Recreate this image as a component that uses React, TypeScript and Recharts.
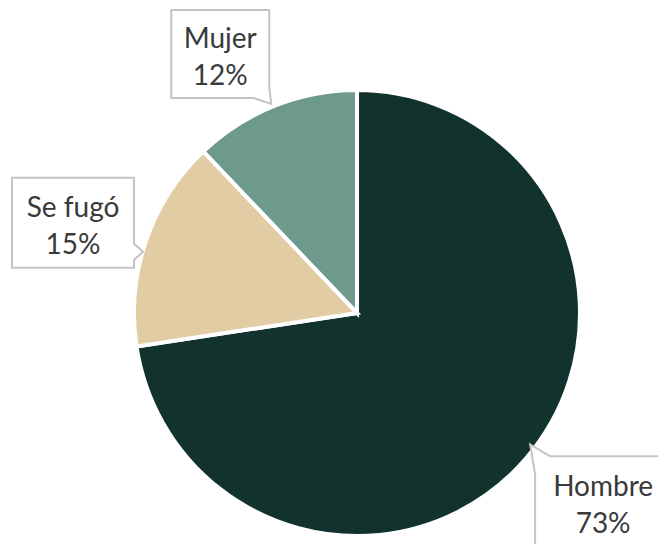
import React from 'react';
import { PieChart, Pie, Cell } from 'recharts';

const categories = ['Hombre', 'Se fugó', 'Mujer'];
const values = [72.6, 15.3, 12.1];
const percentLabels = ['73%', '15%', '12%'];
const colors = ['#11322d', '#e2cca3', '#6e998d'];

const data = categories.map((name, i) => ({ name, value: values[i], pct: percentLabels[i] }));

// callout layout (styles only): box offset from anchor, size, tail shape
const callouts: Record<number, any> = {
  0: { dx: 9, dy: -2, w: 140, h: 92, tail: 'topleft' },
  1: { dx: -134, dy: -63, w: 122, h: 90, tail: 'right' },
  2: { dx: -103, dy: -96, w: 98, h: 88, tail: 'bottomright' },
};

const RADIAN = Math.PI / 180;
const FONT = "Lato, 'Open Sans', sans-serif";

const renderLabel = (props: any) => {
  const { cx, cy, midAngle, outerRadius, index } = props;
  const ax = cx + outerRadius * Math.cos(-midAngle * RADIAN);
  const ay = cy + outerRadius * Math.sin(-midAngle * RADIAN);
  const c = callouts[index];
  const bx = ax + c.dx;
  const by = ay + c.dy;
  const { w, h } = c;
  let d = '';
  if (c.tail === 'topleft') {
    const tx = ax + 4, ty = ay - 14;
    d = `M${bx + 15},${by} H${bx + w} V${by + h} H${bx} V${by + 18} L${tx},${ty} Z`;
  } else if (c.tail === 'right') {
    const tx = bx + w + 9, ty = by + 74;
    d = `M${bx},${by} H${bx + w} V${by + 66} L${tx},${ty} L${bx + w},${by + 82} V${by + h} H${bx} Z`;
  } else {
    const tx = ax - 3, ty = ay - 2;
    d = `M${bx},${by} H${bx + w} V${by + h - 10} L${tx},${ty} L${bx + w - 16},${by + h} H${bx} Z`;
  }
  const item = data[index];
  const tx = bx + w / 2 + (index === 0 ? -2 : 0);
  return (
    <g>
      <path d={d} fill="#ffffff" stroke="#c4c4c4" strokeWidth={2} strokeLinejoin="miter" />
      <text x={tx} y={by + h / 2 - 17} textAnchor="middle" dominantBaseline="central"
        fontFamily={FONT} fontSize={28} fill="#3a3a3a">
        {item.name}
      </text>
      <text x={tx} y={by + h / 2 + 20} textAnchor="middle" dominantBaseline="central"
        fontFamily={FONT} fontSize={28} fill="#3a3a3a">
        {item.pct}
      </text>
    </g>
  );
};

export default function App() {
  return (
    <div style={{ position: 'absolute', left: 0, top: 0, width: 658, height: 544, background: '#fff', overflow: 'hidden' }}>
      <PieChart width={658} height={544} margin={{ top: 0, right: 0, bottom: 0, left: 0 }}>
        <Pie
          data={data}
          dataKey="value"
          nameKey="name"
          cx={357}
          cy={313}
          outerRadius={223}
          startAngle={90}
          endAngle={-270}
          stroke="#ffffff"
          strokeWidth={4}
          labelLine={false}
          label={renderLabel}
          isAnimationActive={false}
        >
          {data.map((d, i) => (
            <Cell key={d.name} fill={colors[i]} />
          ))}
        </Pie>
      </PieChart>
    </div>
  );
}
